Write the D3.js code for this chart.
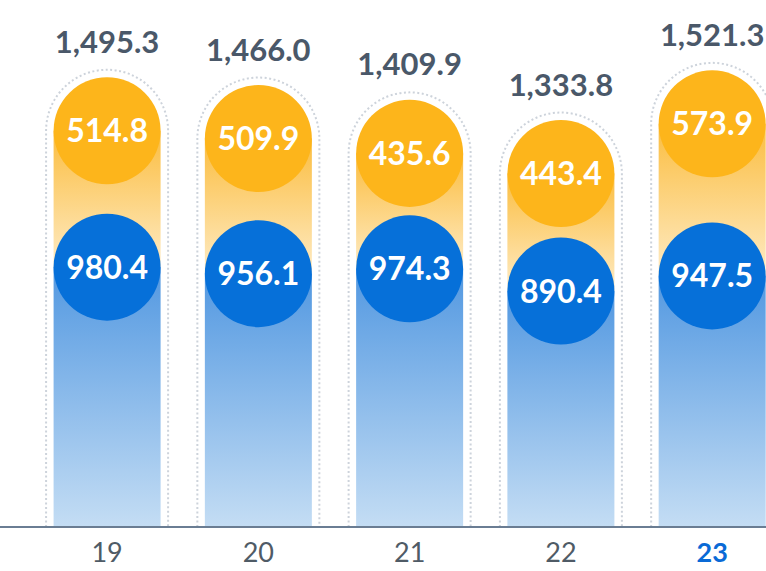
<!DOCTYPE html>
<html>
<head>
<meta charset="utf-8">
<script src="https://cdn.jsdelivr.net/npm/d3@7/dist/d3.min.js"></script>
<style>
  html, body { margin: 0; padding: 0; background: #fff; }
  svg { display: block; font-family: Lato, "Open Sans", sans-serif; }
</style>
</head>
<body>
<svg id="chart" width="766" height="571"></svg>
<script>
const years = ['19', '20', '21', '22', '23']
const bottomValues = [980.4, 956.1, 974.3, 890.4, 947.5]
const topValues = [514.8, 509.9, 435.6, 443.4, 573.9]
const totals = [1495.3, 1466.0, 1409.9, 1333.8, 1521.3]

const width = 766
const height = 571
const baseY = 527

const svg = d3.select('#chart')

const x = d3.scaleBand()
  .domain(years)
  .range([31.5, 787.75])
  .paddingInner(0.2926)
  .paddingOuter(0.146)

const y = d3.scaleLinear().domain([0, 1600]).range([baseY, 103])

const fmt = d3.format(',.1f')
const bw = x.bandwidth()
const r = bw / 2

// gradients
const defs = svg.append('defs')
const yellowGrad = defs.append('linearGradient')
  .attr('id', 'yellow-grad').attr('x1', 0).attr('y1', 0).attr('x2', 0).attr('y2', 1)
yellowGrad.append('stop').attr('offset', '0%').attr('stop-color', '#fbbd3f')
yellowGrad.append('stop').attr('offset', '100%').attr('stop-color', '#feebc4')
const blueGrad = defs.append('linearGradient')
  .attr('id', 'blue-grad').attr('x1', 0).attr('y1', 0).attr('x2', 0).attr('y2', 1)
blueGrad.append('stop').attr('offset', '0%').attr('stop-color', '#5298e1')
blueGrad.append('stop').attr('offset', '100%').attr('stop-color', '#c4ddf4')

const data = years.map((yr, i) => ({
  yr,
  bottom: bottomValues[i],
  top: topValues[i],
  total: totals[i],
}))

// dotted outlines
const pad = 7.5
svg.append('g')
  .selectAll('path')
  .data(data)
  .join('path')
  .attr('d', (d) => {
    const cx = x(d.yr) + r
    const cy = y(d.total)
    const rr = r + pad
    return `M${cx - rr},${baseY} L${cx - rr},${cy} A${rr},${rr} 0 0 1 ${cx + rr},${cy} L${cx + rr},${baseY}`
  })
  .attr('fill', 'none')
  .attr('stroke', '#cdd3db')
  .attr('stroke-width', 2)
  .attr('stroke-dasharray', '2 2.5')

// bar segments
const bars = svg.append('g')
bars.selectAll('.seg-top')
  .data(data)
  .join('rect')
  .attr('class', 'seg-top')
  .attr('x', (d) => x(d.yr))
  .attr('y', (d) => y(d.total))
  .attr('width', bw)
  .attr('height', (d) => y(d.bottom) - y(d.total))
  .attr('fill', 'url(#yellow-grad)')
bars.selectAll('.seg-bottom')
  .data(data)
  .join('rect')
  .attr('class', 'seg-bottom')
  .attr('x', (d) => x(d.yr))
  .attr('y', (d) => y(d.bottom))
  .attr('width', bw)
  .attr('height', (d) => baseY - y(d.bottom))
  .attr('fill', 'url(#blue-grad)')

// circles
const circles = svg.append('g')
circles.selectAll('.c-top')
  .data(data)
  .join('circle')
  .attr('class', 'c-top')
  .attr('cx', (d) => x(d.yr) + r)
  .attr('cy', (d) => y(d.total))
  .attr('r', r)
  .attr('fill', '#fdb51b')
circles.selectAll('.c-bottom')
  .data(data)
  .join('circle')
  .attr('class', 'c-bottom')
  .attr('cx', (d) => x(d.yr) + r)
  .attr('cy', (d) => y(d.bottom))
  .attr('r', r)
  .attr('fill', '#0670d9')

// circle labels
const labels = svg.append('g')
  .attr('fill', '#fff')
  .attr('font-size', 32)
  .attr('font-weight', 700)
  .attr('text-anchor', 'middle')
labels.selectAll('.l-top')
  .data(data)
  .join('text')
  .attr('x', (d) => x(d.yr) + r)
  .attr('y', (d) => y(d.total))
  .attr('dy', '0.36em')
  .text((d) => fmt(d.top))
labels.selectAll('.l-bottom')
  .data(data)
  .join('text')
  .attr('x', (d) => x(d.yr) + r)
  .attr('y', (d) => y(d.bottom))
  .attr('dy', '0.36em')
  .text((d) => fmt(d.bottom))

// totals
svg.append('g')
  .attr('fill', '#4a5869')
  .attr('font-size', 31)
  .attr('font-weight', 700)
  .attr('text-anchor', 'middle')
  .selectAll('text')
  .data(data)
  .join('text')
  .attr('x', (d) => x(d.yr) + r)
  .attr('y', (d) => y(d.total) - r - pad - 17)
  .text((d) => fmt(d.total))

// axis
const xAxis = d3.axisBottom(x).tickSize(0).tickPadding(16)
const axisG = svg.append('g')
  .attr('transform', `translate(0, ${baseY})`)
  .call(xAxis)
axisG.select('.domain').remove()
axisG.append('line')
  .attr('x1', 0).attr('x2', width)
  .attr('stroke', '#6a7d93').attr('stroke-width', 2)
axisG.selectAll('.tick text')
  .attr('font-family', 'Lato, "Open Sans", sans-serif')
  .attr('font-size', 27)
  .attr('fill', (d) => (d === '23' ? '#0a6ad6' : '#4f5b66'))
  .attr('font-weight', (d) => (d === '23' ? 700 : 400))
</script>
</body>
</html>
